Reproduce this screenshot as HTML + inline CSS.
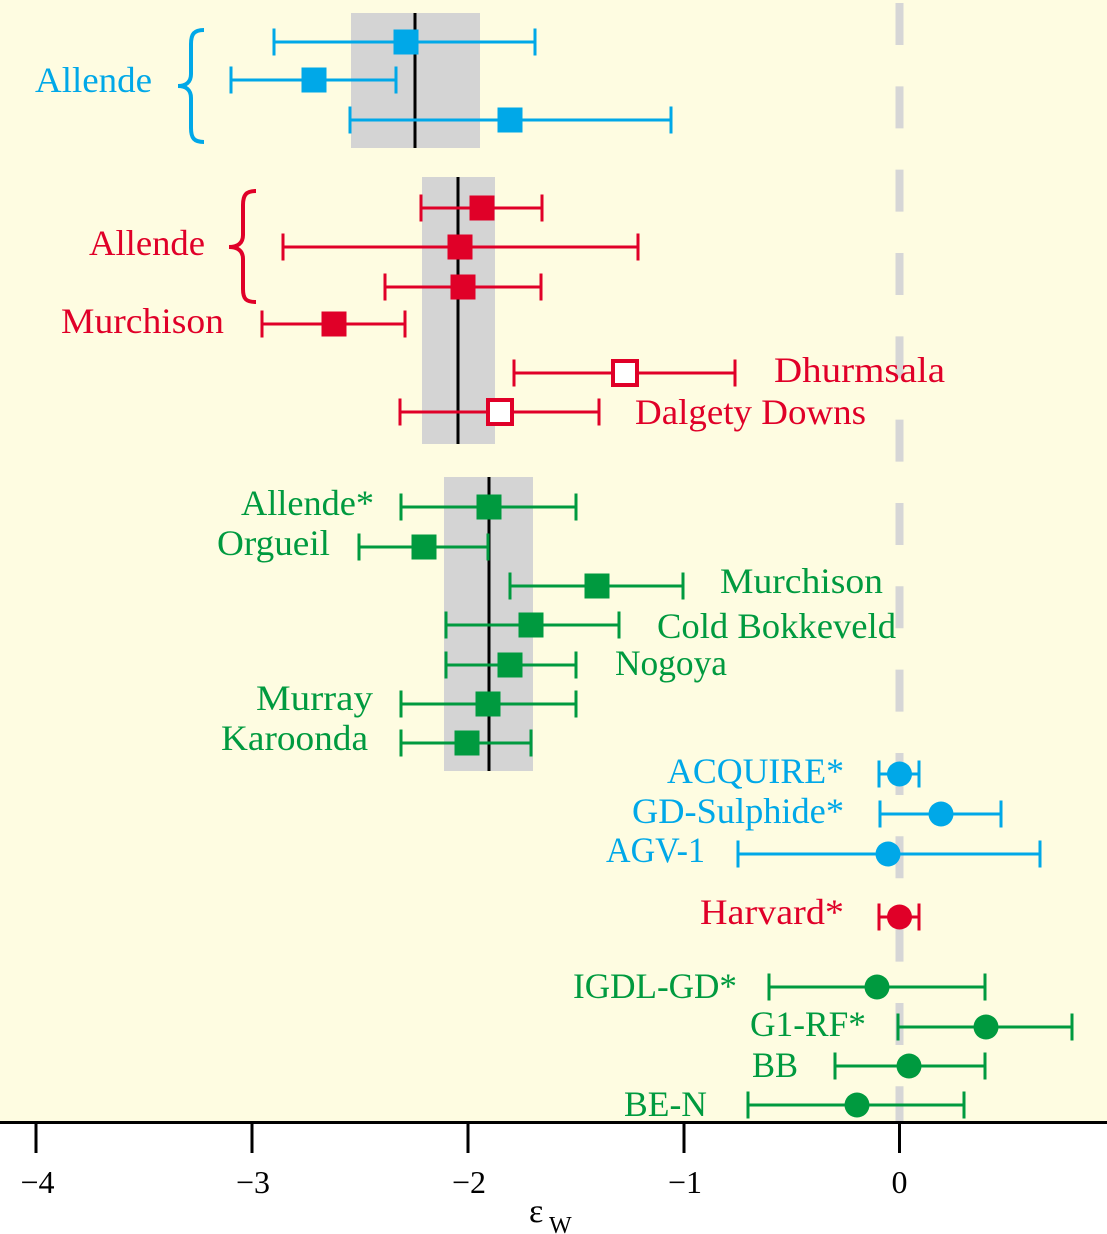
<!DOCTYPE html>
<html>
<head>
<meta charset="utf-8">
<style>
html,body{margin:0;padding:0;background:#ffffff;}
svg{display:block;}
text{font-family:"Liberation Serif","DejaVu Serif",serif;}
</style>
</head>
<body>
<svg width="1107" height="1234" viewBox="0 0 1107 1234" xmlns="http://www.w3.org/2000/svg">
  <rect x="0" y="0" width="1107" height="1234" fill="#ffffff"/>
  <rect x="0" y="0" width="1107" height="1122" fill="#fefce1"/>

  <!-- dashed zero line -->
  <line x1="899.5" y1="3" x2="899.5" y2="1122" stroke="#d6d6d6" stroke-width="8" stroke-dasharray="42 41.33"/>

  <!-- gray bands -->
  <rect x="351" y="13" width="129" height="135" fill="#d4d4d4"/>
  <rect x="422" y="177" width="73" height="267" fill="#d4d4d4"/>
  <rect x="444" y="477" width="89" height="294" fill="#d4d4d4"/>
  <line x1="415" y1="13" x2="415" y2="148" stroke="#000" stroke-width="3"/>
  <line x1="458" y1="177" x2="458" y2="444" stroke="#000" stroke-width="3"/>
  <line x1="489" y1="477" x2="489" y2="771" stroke="#000" stroke-width="3"/>

  <!-- BLUE squares -->
  <g stroke="#00a8e8" stroke-width="3" fill="#00a8e8">
    <path d="M274,42H535M274,28.5V55.5M535,28.5V55.5"/>
    <rect x="393.5" y="29.5" width="25" height="25" stroke="none"/>
    <path d="M231,80H396M231,66.5V93.5M396,66.5V93.5"/>
    <rect x="301.5" y="67.5" width="25" height="25" stroke="none"/>
    <path d="M350,120H671M350,106.5V133.5M671,106.5V133.5"/>
    <rect x="497.5" y="107.5" width="25" height="25" stroke="none"/>
  </g>
  <path d="M204,30 C194,30 191,34 191,44 L191,74 C191,82 186,86 178,86 C186,86 191,90 191,98 L191,128 C191,138 194,142 204,142" fill="none" stroke="#00a8e8" stroke-width="4"/>

  <!-- RED squares -->
  <g stroke="#e00028" stroke-width="3" fill="#e00028">
    <path d="M421,208H542M421,194.5V221.5M542,194.5V221.5"/>
    <rect x="469.5" y="195.5" width="25" height="25" stroke="none"/>
    <path d="M283,247H638M283,233.5V260.5M638,233.5V260.5"/>
    <rect x="447.5" y="234.5" width="25" height="25" stroke="none"/>
    <path d="M385,287H541M385,273.5V300.5M541,273.5V300.5"/>
    <rect x="450.5" y="274.5" width="25" height="25" stroke="none"/>
    <path d="M262,324H405M262,310.5V337.5M405,310.5V337.5"/>
    <rect x="321.5" y="311.5" width="25" height="25" stroke="none"/>
    <path d="M514,373H735M514,359.5V386.5M735,359.5V386.5"/>
    <path d="M400,412H599M400,398.5V425.5M599,398.5V425.5"/>
  </g>
  <rect x="613" y="361" width="24" height="24" fill="#ffffff" stroke="#e00028" stroke-width="4"/>
  <rect x="488" y="400" width="24" height="24" fill="#ffffff" stroke="#e00028" stroke-width="4"/>
  <path d="M256,191 C246,191 243,195 243,205 L243,235 C243,243 238,247 229,247 C238,247 243,251 243,259 L243,289 C243,299 246,302 256,302" fill="none" stroke="#e00028" stroke-width="4"/>

  <!-- GREEN squares -->
  <g stroke="#009a3f" stroke-width="3" fill="#009a3f">
    <path d="M401,507H576M401,493.5V520.5M576,493.5V520.5"/>
    <rect x="476.5" y="494.5" width="25" height="25" stroke="none"/>
    <path d="M359,547H488M359,533.5V560.5M488,533.5V560.5"/>
    <rect x="411.5" y="534.5" width="25" height="25" stroke="none"/>
    <path d="M510,586H683M510,572.5V599.5M683,572.5V599.5"/>
    <rect x="584.5" y="573.5" width="25" height="25" stroke="none"/>
    <path d="M446,625H619M446,611.5V638.5M619,611.5V638.5"/>
    <rect x="518.5" y="612.5" width="25" height="25" stroke="none"/>
    <path d="M446,665H576M446,651.5V678.5M576,651.5V678.5"/>
    <rect x="497.5" y="652.5" width="25" height="25" stroke="none"/>
    <path d="M401,704H576M401,690.5V717.5M576,690.5V717.5"/>
    <rect x="475.5" y="691.5" width="25" height="25" stroke="none"/>
    <path d="M401,743H531M401,729.5V756.5M531,729.5V756.5"/>
    <rect x="454.5" y="730.5" width="25" height="25" stroke="none"/>
  </g>

  <!-- circles -->
  <g stroke="#00a8e8" stroke-width="3" fill="#00a8e8">
    <path d="M879,774H919M879,760.5V787.5M919,760.5V787.5"/>
    <circle cx="899.5" cy="774" r="12.5" stroke="none"/>
    <path d="M880,814H1001M880,800.5V827.5M1001,800.5V827.5"/>
    <circle cx="941" cy="814" r="12.5" stroke="none"/>
    <path d="M738,854H1040M738,840.5V867.5M1040,840.5V867.5"/>
    <circle cx="888" cy="854" r="12.5" stroke="none"/>
  </g>
  <g stroke="#e00028" stroke-width="3" fill="#e00028">
    <path d="M879,917H919M879,903.5V930.5M919,903.5V930.5"/>
    <circle cx="899.5" cy="917" r="12.5" stroke="none"/>
  </g>
  <g stroke="#009a3f" stroke-width="3" fill="#009a3f">
    <path d="M769,987H985M769,973.5V1000.5M985,973.5V1000.5"/>
    <circle cx="877" cy="987" r="12.5" stroke="none"/>
    <path d="M898,1027H1072M898,1013.5V1040.5M1072,1013.5V1040.5"/>
    <circle cx="986" cy="1027" r="12.5" stroke="none"/>
    <path d="M835,1066H985M835,1052.5V1079.5M985,1052.5V1079.5"/>
    <circle cx="909" cy="1066" r="12.5" stroke="none"/>
    <path d="M748,1105H964M748,1091.5V1118.5M964,1091.5V1118.5"/>
    <circle cx="857" cy="1105" r="12.5" stroke="none"/>
  </g>

  <!-- labels -->
  <g font-size="36">
    <text x="35" y="92" fill="#00a8e8" textLength="117" lengthAdjust="spacingAndGlyphs">Allende</text>
    <text x="89" y="255" fill="#e00028" textLength="116" lengthAdjust="spacingAndGlyphs">Allende</text>
    <text x="61" y="333" fill="#e00028" textLength="163" lengthAdjust="spacingAndGlyphs">Murchison</text>
    <text x="774" y="382" fill="#e00028" textLength="171" lengthAdjust="spacingAndGlyphs">Dhurmsala</text>
    <text x="635" y="424" fill="#e00028" textLength="231" lengthAdjust="spacingAndGlyphs">Dalgety Downs</text>

    <text x="241" y="515" fill="#009a3f" textLength="133" lengthAdjust="spacingAndGlyphs">Allende*</text>
    <text x="217" y="555" fill="#009a3f" textLength="113" lengthAdjust="spacingAndGlyphs">Orgueil</text>
    <text x="720" y="593" fill="#009a3f" textLength="163" lengthAdjust="spacingAndGlyphs">Murchison</text>
    <text x="657" y="638" fill="#009a3f" textLength="239" lengthAdjust="spacingAndGlyphs">Cold Bokkeveld</text>
    <text x="615" y="675" fill="#009a3f" textLength="112" lengthAdjust="spacingAndGlyphs">Nogoya</text>
    <text x="256" y="710" fill="#009a3f" textLength="117" lengthAdjust="spacingAndGlyphs">Murray</text>
    <text x="221" y="750" fill="#009a3f" textLength="147" lengthAdjust="spacingAndGlyphs">Karoonda</text>

    <text x="667" y="783" fill="#00a8e8" textLength="177" lengthAdjust="spacingAndGlyphs">ACQUIRE*</text>
    <text x="632" y="823" fill="#00a8e8" textLength="212" lengthAdjust="spacingAndGlyphs">GD-Sulphide*</text>
    <text x="606" y="862" fill="#00a8e8" textLength="99" lengthAdjust="spacingAndGlyphs">AGV-1</text>
    <text x="700" y="924" fill="#e00028" textLength="144" lengthAdjust="spacingAndGlyphs">Harvard*</text>

    <text x="573" y="998" fill="#009a3f" textLength="164" lengthAdjust="spacingAndGlyphs">IGDL-GD*</text>
    <text x="750" y="1036" fill="#009a3f" textLength="116" lengthAdjust="spacingAndGlyphs">G1-RF*</text>
    <text x="752" y="1077" fill="#009a3f" textLength="46" lengthAdjust="spacingAndGlyphs">BB</text>
    <text x="624" y="1116" fill="#009a3f" textLength="83" lengthAdjust="spacingAndGlyphs">BE-N</text>
  </g>

  <!-- axis -->
  <line x1="0" y1="1122.5" x2="1107" y2="1122.5" stroke="#000" stroke-width="3"/>
  <g stroke="#000" stroke-width="3">
    <line x1="36" y1="1122" x2="36" y2="1153"/>
    <line x1="252" y1="1122" x2="252" y2="1153"/>
    <line x1="468" y1="1122" x2="468" y2="1153"/>
    <line x1="684" y1="1122" x2="684" y2="1153"/>
    <line x1="899.5" y1="1122" x2="899.5" y2="1153"/>
  </g>
  <g font-size="32" fill="#000" text-anchor="middle">
    <text x="37.5" y="1193">−4</text>
    <text x="253" y="1193">−3</text>
    <text x="469" y="1193">−2</text>
    <text x="685" y="1193">−1</text>
    <text x="899.5" y="1193">0</text>
  </g>
  <text x="529" y="1222" font-size="34" fill="#000">ε</text>
  <text x="549" y="1233" font-size="24" fill="#000">W</text>
</svg>
</body>
</html>
